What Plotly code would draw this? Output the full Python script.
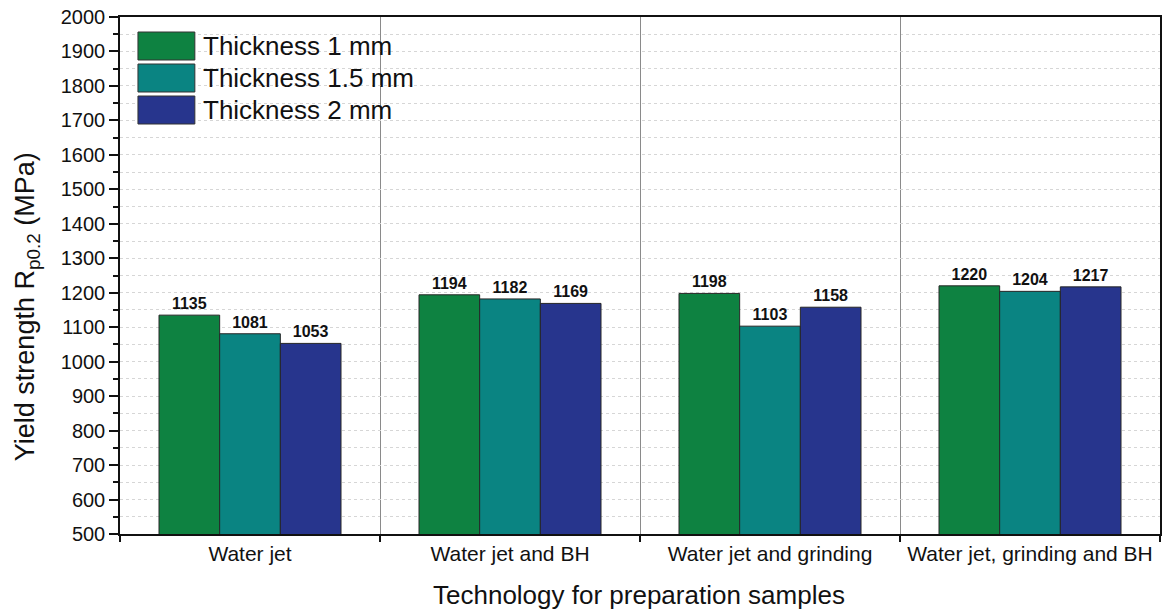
import plotly.graph_objects as go

# Sample preparation routes (x categories)
categories = [
    "Water jet",
    "Water jet and BH",
    "Water jet and grinding",
    "Water jet, grinding and BH",
]

# Yield strength Rp0.2 in MPa for each sheet thickness
series_names = ["Thickness 1 mm", "Thickness 1.5 mm", "Thickness 2 mm"]
thick_1_0 = [1135, 1194, 1198, 1220]
thick_1_5 = [1081, 1182, 1103, 1204]
thick_2_0 = [1053, 1169, 1158, 1217]
series_values = [thick_1_0, thick_1_5, thick_2_0]
series_colors = ["#0E8241", "#0A8482", "#27358D"]

FONT = "Arial, 'Liberation Sans', sans-serif"
W, H = 1163, 612
L, R, T, B = 120, 1, 17, 78
PW, PH = W - L - R, H - T - B


def px_x(px):
    return (px - L) / PW


def px_y(py):
    return (H - B - py) / PH


fig = go.Figure()
for name, vals, col in zip(series_names, series_values, series_colors):
    fig.add_trace(go.Bar(
        x=categories, y=vals, name=name,
        marker=dict(color=col, line=dict(color="#262626", width=1)),
        texttemplate="<b>%{y}</b>", textposition="outside",
        textfont=dict(family=FONT, size=16, color="#111111"),
        cliponaxis=False, showlegend=False,
    ))

# Custom legend block with large swatches
sw_x0, sw_x1, txt_x = 138, 195, 201
row_tops = [32, 64, 96]
shapes = []
annotations = []
for name, col, top in zip(series_names, series_colors, row_tops):
    shapes.append(dict(
        type="rect", xref="paper", yref="paper",
        x0=px_x(sw_x0), x1=px_x(sw_x1), y0=px_y(top + 28), y1=px_y(top),
        fillcolor=col, line=dict(color="#333333", width=1), layer="above",
    ))
    annotations.append(dict(
        xref="paper", yref="paper", x=px_x(txt_x), y=px_y(top + 14),
        xanchor="left", yanchor="middle", showarrow=False, text=name,
        font=dict(family=FONT, size=26, color="#111111"),
    ))

annotations.append(dict(
    xref="paper", yref="paper", x=px_x(27), y=px_y(307),
    xanchor="center", yanchor="middle", showarrow=False, textangle=-90,
    text="Yield strength R<sub>p0.2</sub> (MPa)",
    font=dict(family=FONT, size=27, color="#111111"),
))
annotations.append(dict(
    xref="paper", yref="paper", x=px_x(640), y=px_y(595),
    xanchor="center", yanchor="middle", showarrow=False,
    text="Technology for preparation samples",
    font=dict(family=FONT, size=26, color="#111111"),
))

fig.update_layout(
    width=W, height=H,
    margin=dict(l=L, r=R, t=T, b=B),
    paper_bgcolor="white", plot_bgcolor="white",
    barmode="group", bargap=0.3, bargroupgap=0,
    font=dict(family=FONT, color="#111111"),
    shapes=shapes, annotations=annotations,
    xaxis=dict(
        type="category", categoryorder="array", categoryarray=categories,
        range=[-0.5, 3.5], tickson="boundaries",
        ticks="outside", ticklen=6, tickwidth=1.5, tickcolor="#111111",
        showline=True, linecolor="#111111", linewidth=1.5, mirror=True,
        showgrid=True, gridcolor="#8a8a8a", gridwidth=1,
        tickfont=dict(family=FONT, size=21, color="#111111"),
        zeroline=False,
    ),
    yaxis=dict(
        range=[500, 2000], dtick=100, tick0=0,
        ticks="outside", ticklen=9, tickwidth=1.5, tickcolor="#111111",
        showline=True, linecolor="#111111", linewidth=1.5, mirror=True,
        showgrid=True, gridcolor="#d6d6d6", griddash="dot", gridwidth=1,
        minor=dict(dtick=50, ticks="outside", ticklen=5, tickwidth=1.5,
                   tickcolor="#111111", showgrid=True, gridcolor="#d6d6d6",
                   griddash="dot", gridwidth=1),
        tickfont=dict(family=FONT, size=20, color="#111111"),
        zeroline=False,
    ),
    xaxis2=dict(
        overlaying="x", side="top", anchor="y", range=[-0.5, 3.5],
        tickvals=[0.5, 1.5, 2.5], ticks="inside", ticklen=6, tickwidth=1.5,
        tickcolor="#111111", showticklabels=False, showgrid=False,
        showline=False, zeroline=False,
    ),
    yaxis2=dict(
        overlaying="y", side="right", anchor="x", range=[500, 2000],
        dtick=100, tick0=0, ticks="inside", ticklen=9, tickwidth=1.5,
        tickcolor="#111111", showticklabels=False, showgrid=False,
        showline=False, zeroline=False,
        minor=dict(dtick=50, ticks="inside", ticklen=5, tickwidth=1.5,
                   tickcolor="#111111"),
    ),
)

fig.write_html("out.html")
